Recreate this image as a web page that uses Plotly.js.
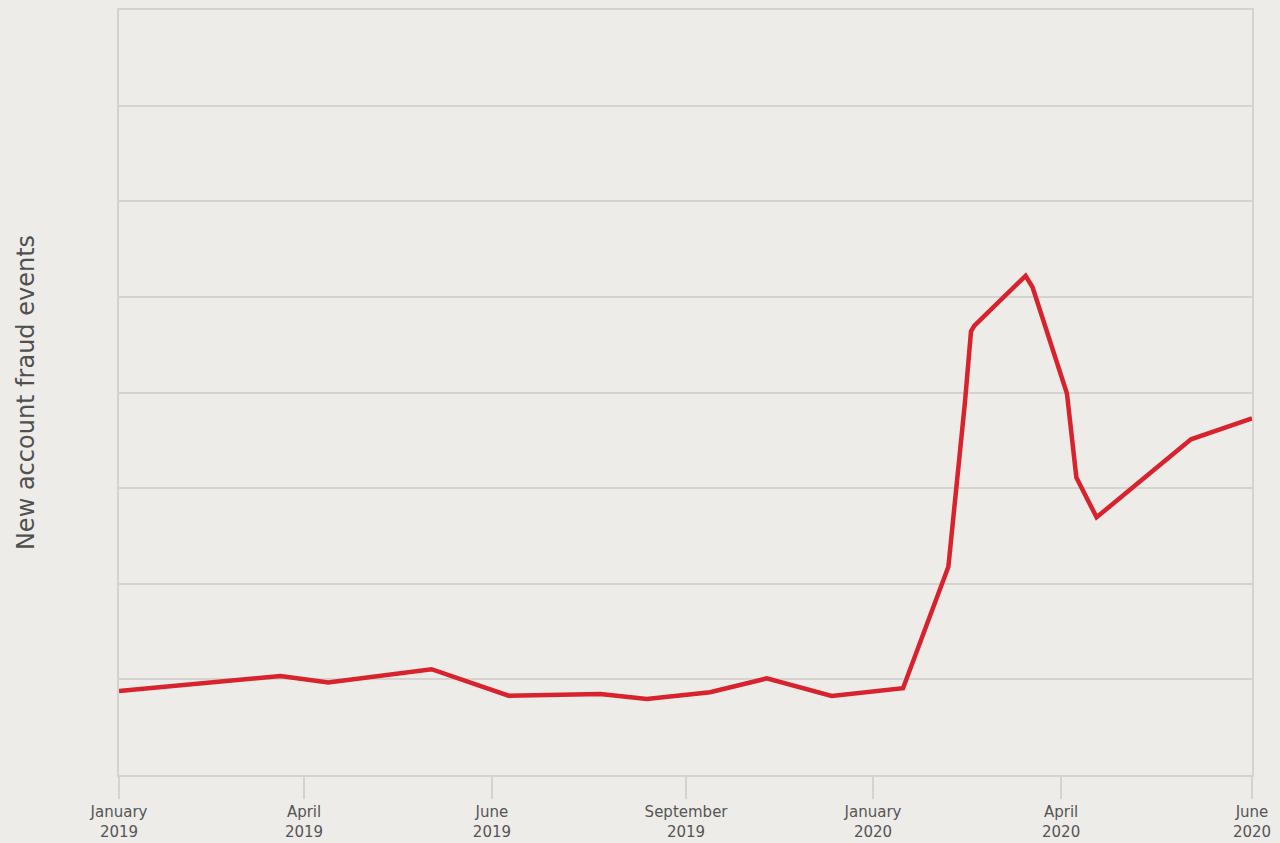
<!DOCTYPE html>
<html>
<head>
<meta charset="utf-8">
<script src="https://cdn.plot.ly/plotly-3.0.1.min.js"></script>
<style>
  html, body { margin: 0; padding: 0; background: #edece8; }
  #chart { width: 1280px; height: 843px; }
</style>
</head>
<body>
<div id="chart"></div>
<script>
// Tick positions (period index) and their labels
const tickPositions = [0, 0.98, 1.975, 3.003, 3.993, 4.989, 6];
const tickLabels = [
  "January<br>2019", "April<br>2019", "June<br>2019", "September<br>2019",
  "January<br>2020", "April<br>2020", "June<br>2020"
];

// Series: position along the time axis (period index) and relative event level
const periodIndex = [0, 0.855, 1.108, 1.655, 2.063, 2.549, 2.795, 3.130, 3.430,
  3.774, 4.152, 4.392, 4.480, 4.512, 4.530, 4.801, 4.838, 5.020, 5.070, 5.177, 5.677, 6.0];
const fraudEvents = [0.878, 1.036, 0.968, 1.106, 0.830, 0.848, 0.795, 0.866, 1.010,
  0.826, 0.908, 2.177, 3.900, 4.640, 4.700, 5.220, 5.100, 3.990, 3.110, 2.695, 3.510, 3.730];

const trace = {
  x: periodIndex,
  y: fraudEvents,
  type: "scatter",
  mode: "lines",
  line: { color: "#d8222d", width: 4.5, shape: "linear" },
  hoverinfo: "skip",
  cliponaxis: false
};

const layout = {
  width: 1280,
  height: 843,
  paper_bgcolor: "#edece8",
  plot_bgcolor: "#edece8",
  margin: { l: 119, r: 28, t: 10, b: 68 },
  showlegend: false,
  font: { family: "'DejaVu Sans', sans-serif", color: "#555" },
  xaxis: {
    range: [0, 6],
    tickvals: tickPositions,
    ticktext: tickLabels,
    ticks: "outside",
    ticklen: 22,
    tickwidth: 2,
    tickcolor: "#d4d3cf",
    showgrid: false,
    zeroline: false,
    showline: true,
    linecolor: "#d4d3cf",
    linewidth: 2,
    mirror: true,
    tickfont: { size: 15, color: "#555", family: "'DejaVu Sans', sans-serif" },
    fixedrange: true
  },
  yaxis: {
    range: [0, 8],
    dtick: 1,
    tick0: 0,
    showticklabels: false,
    ticks: "",
    showgrid: true,
    gridcolor: "#d4d3cf",
    gridwidth: 2,
    zeroline: false,
    showline: true,
    linecolor: "#d4d3cf",
    linewidth: 2,
    mirror: true,
    title: {
      text: "New account fraud events",
      font: { size: 24, color: "#505050", family: "'DejaVu Sans', sans-serif" },
      standoff: 76
    },
    fixedrange: true
  }
};

Plotly.newPlot("chart", [trace], layout, { displayModeBar: false, staticPlot: true });
</script>
</body>
</html>
